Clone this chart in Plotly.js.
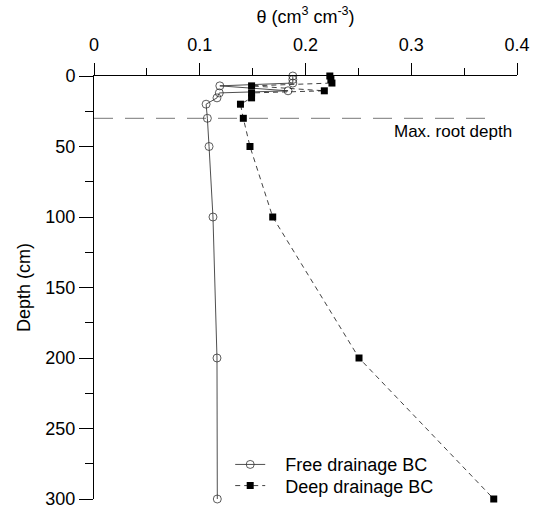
<!DOCTYPE html>
<html>
<head>
<meta charset="utf-8">
<script src="https://cdn.plot.ly/plotly-3.0.1.min.js"></script>
<style>html,body{margin:0;padding:0;background:#fff;}#chart{width:537px;height:509px;}</style>
</head>
<body>
<div id="chart"></div>
<script>
// Data
const depthFree = [0, 2.5, 5, 7, 10.5, 12, 15.5, 20, 30, 50, 100, 200, 300];
const thetaFree = [0.188, 0.188, 0.188, 0.119, 0.1835, 0.1185, 0.1163, 0.106, 0.1072, 0.1088, 0.1125, 0.1163, 0.1166];
const depthDeep = [0, 2.5, 5, 7, 10.5, 12, 15.5, 20, 30, 50, 100, 200, 300];
const thetaDeep = [0.223, 0.224, 0.225, 0.149, 0.2178, 0.149, 0.149, 0.1385, 0.1412, 0.1475, 0.169, 0.2506, 0.378];
const seriesNames = ['Free drainage BC', 'Deep drainage BC'];
const rootDepth = 30;
const rootLineEnd = 0.381;
const xTicks = [0, 0.1, 0.2, 0.3, 0.4];
const xTickLabels = ['0', '0.1', '0.2', '0.3', '0.4'];
const yTicks = [0, 50, 100, 150, 200, 250, 300];
const yTickLabels = ['0', '50', '100', '150', '200', '250', '300'];

const FONT = 'Arial, "Liberation Sans", sans-serif';
const pad = '\u00a0\u00a0\u00a0';

const traces = [
  {
    x: thetaFree, y: depthFree, name: pad + seriesNames[0], legend: 'legend',
    mode: 'lines+markers', type: 'scatter', cliponaxis: false,
    line: {color: '#222', width: 0.8},
    marker: {symbol: 'circle-open', size: 8, color: '#333', line: {width: 0.8, color: '#333'}}
  },
  {
    x: thetaDeep, y: depthDeep, name: pad + seriesNames[1], legend: 'legend2',
    mode: 'lines+markers', type: 'scatter', cliponaxis: false,
    line: {color: '#111', width: 0.8, dash: '5px,4px'},
    marker: {symbol: 'square', size: 7, color: '#000'}
  }
];

const legendBase = {xanchor: 'left', yanchor: 'middle', bgcolor: 'rgba(0,0,0,0)',
                    font: {family: FONT, size: 18, color: '#000'}};

const layout = {
  width: 537, height: 509,
  margin: {l: 94, r: 20, t: 76, b: 10, autoexpand: false},
  paper_bgcolor: '#fff', plot_bgcolor: '#fff',
  font: {family: FONT, size: 17, color: '#000'},
  showlegend: true,
  legend: Object.assign({x: 0.322, y: 0.081}, legendBase),
  legend2: Object.assign({x: 0.322, y: 0.031}, legendBase),
  xaxis: {
    side: 'top', range: [0, 0.4], autorange: false, automargin: false,
    showline: true, linecolor: '#000', linewidth: 1,
    showgrid: false, zeroline: false,
    ticks: 'outside', ticklen: 12, tickwidth: 1, tickcolor: '#000',
    tickvals: xTicks, ticktext: xTickLabels,
    tickfont: {family: FONT, size: 18, color: '#000'},
    ticklabelstandoff: 5, ticklabeloverflow: 'allow',
    minor: {dtick: 0.05, tick0: 0, ticks: 'outside', ticklen: 7, tickwidth: 1, tickcolor: '#000', showgrid: false},
    title: {text: 'θ (cm<sup>3</sup> cm<sup>-3</sup>)', font: {family: FONT, size: 18, color: '#000'}, standoff: 6}
  },
  yaxis: {
    range: [300, 0], autorange: false, automargin: false,
    showline: true, linecolor: '#000', linewidth: 1,
    showgrid: false, zeroline: false,
    ticks: 'outside', ticklen: 14, tickwidth: 1, tickcolor: '#000',
    tickvals: yTicks, ticktext: yTickLabels,
    tickfont: {family: FONT, size: 18, color: '#000'},
    ticklabeloverflow: 'allow',
    minor: {dtick: 25, tick0: 0, ticks: 'outside', ticklen: 8, tickwidth: 1, tickcolor: '#000', showgrid: false},
    title: {text: 'Depth (cm)', font: {family: FONT, size: 18, color: '#000'}, standoff: 10}
  },
  shapes: [
    {type: 'line', xref: 'x', yref: 'y', x0: 0, x1: rootLineEnd, y0: rootDepth, y1: rootDepth,
     line: {color: '#777', width: 1, dash: '19px,12px'}, layer: 'below'}
  ],
  annotations: [
    {xref: 'x', yref: 'y', x: 0.397, y: rootDepth, xanchor: 'right', yanchor: 'top', yshift: -2,
     text: 'Max. root depth', showarrow: false, font: {family: FONT, size: 17, color: '#000'}}
  ]
};

Plotly.newPlot('chart', traces, layout, {displayModeBar: false, staticPlot: true});
</script>
</body>
</html>
